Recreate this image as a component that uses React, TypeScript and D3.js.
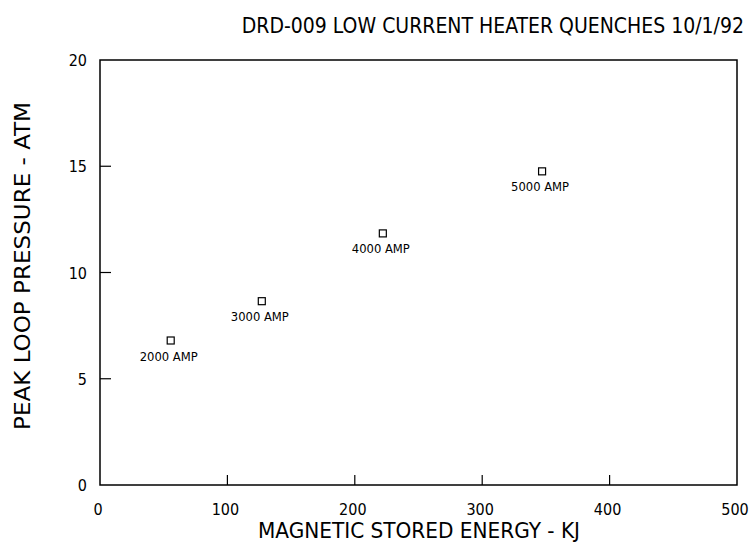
import { useEffect, useRef } from "react";
import * as d3 from "d3";

const currents = ["2000 AMP", "3000 AMP", "4000 AMP", "5000 AMP"];
const energyKJ = [55.5, 127, 222, 347];
const pressureATM = [6.8, 8.65, 11.84, 14.76];
const xTicks = [0, 100, 200, 300, 400, 500];
const yTicks = [0, 5, 10, 15, 20];

const title = "DRD-009 LOW CURRENT HEATER QUENCHES 10/1/92";
const xTitle = "MAGNETIC STORED ENERGY - KJ";
const yTitle = "PEAK LOOP PRESSURE - ATM";

const FONT = "'DejaVu Sans Condensed', 'Liberation Sans Narrow', sans-serif";

const App = () => {
  const ref = useRef<SVGSVGElement>(null);

  useEffect(() => {
    const svg = d3.select(ref.current);
    svg.selectAll("*").remove();

    const left = 100, right = 737, top = 60, bottom = 485;
    const x = d3.scaleLinear().domain([0, 500]).range([left, right]);
    const y = d3.scaleLinear().domain([0, 20]).range([bottom, top]);

    // frame
    svg.append("rect")
      .attr("x", left).attr("y", top)
      .attr("width", right - left).attr("height", bottom - top)
      .attr("fill", "none").attr("stroke", "#000").attr("stroke-width", 1.5);

    // ticks point inward
    svg.selectAll(".xt")
      .data(xTicks.slice(1, -1))
      .enter().append("line")
      .attr("x1", d => x(d)).attr("x2", d => x(d))
      .attr("y1", bottom).attr("y2", bottom - 10)
      .attr("stroke", "#000").attr("stroke-width", 1.2);

    svg.selectAll(".yt")
      .data(yTicks.slice(1, -1))
      .enter().append("line")
      .attr("x1", left).attr("x2", left + 11)
      .attr("y1", d => y(d)).attr("y2", d => y(d))
      .attr("stroke", "#000").attr("stroke-width", 1.2);

    svg.selectAll(".xl")
      .data(xTicks)
      .enter().append("text")
      .attr("x", d => x(d) - 2).attr("y", bottom + 30)
      .attr("text-anchor", "middle")
      .attr("font-family", FONT).attr("font-size", 16)
      .text(d => d);

    svg.selectAll(".yl")
      .data(yTicks)
      .enter().append("text")
      .attr("x", left - 13).attr("y", d => y(d) + 6)
      .attr("text-anchor", "end")
      .attr("font-family", FONT).attr("font-size", 16)
      .text(d => d);

    // titles
    svg.append("text")
      .attr("x", 744).attr("y", 33)
      .attr("text-anchor", "end")
      .attr("font-family", FONT).attr("font-size", 21).attr("font-weight", 300)
      .text(title);

    svg.append("text")
      .attr("x", 258).attr("y", 538)
      .attr("font-family", FONT).attr("font-size", 21).attr("font-weight", 300)
      .attr("textLength", 322).attr("lengthAdjust", "spacingAndGlyphs")
      .text(xTitle);

    svg.append("text")
      .attr("transform", "translate(30,430) rotate(-90)")
      .attr("font-family", FONT).attr("font-size", 21).attr("font-weight", 300)
      .attr("textLength", 328).attr("lengthAdjust", "spacingAndGlyphs")
      .text(yTitle);

    // points
    const pts = currents.map((c, i) => ({ c, e: energyKJ[i], p: pressureATM[i] }));
    svg.selectAll(".pt")
      .data(pts)
      .enter().append("rect")
      .attr("x", d => x(d.e) - 3.5).attr("y", d => y(d.p) - 3.5)
      .attr("width", 7).attr("height", 7)
      .attr("fill", "none").attr("stroke", "#000").attr("stroke-width", 1.2);

    svg.selectAll(".pl")
      .data(pts)
      .enter().append("text")
      .attr("x", d => x(d.e) - 2).attr("y", d => y(d.p) + 20)
      .attr("text-anchor", "middle")
      .attr("font-family", FONT).attr("font-size", 13)
      .attr("textLength", 58).attr("lengthAdjust", "spacingAndGlyphs")
      .text(d => d.c);
  }, []);

  return (
    <svg
      ref={ref}
      width={751}
      height={546}
      style={{ position: "absolute", left: 0, top: 0, background: "#fff" }}
    />
  );
};

export default App;
